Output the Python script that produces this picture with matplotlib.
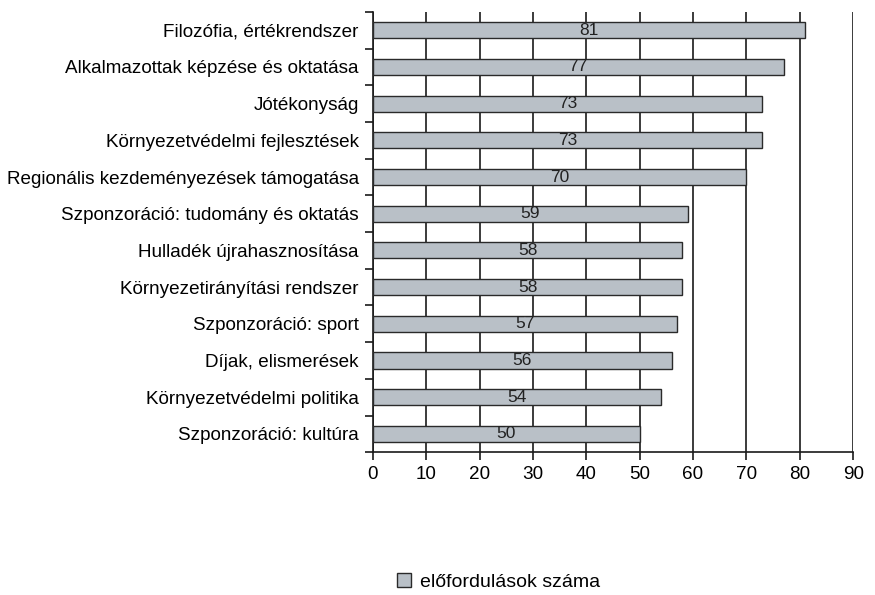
import numpy as np
import matplotlib
matplotlib.use('Agg')
from matplotlib import pyplot as plt
from matplotlib.ticker import MultipleLocator

plt.rcParams['font.family'] = ['Liberation Sans', 'DejaVu Sans']

categories = [
    'Filozófia, értékrendszer',
    'Alkalmazottak képzése és oktatása',
    'Jótékonyság',
    'Környezetvédelmi fejlesztések',
    'Regionális kezdeményezések támogatása',
    'Szponzoráció: tudomány és oktatás',
    'Hulladék újrahasznosítása',
    'Környezetirányítási rendszer',
    'Szponzoráció: sport',
    'Díjak, elismerések',
    'Környezetvédelmi politika',
    'Szponzoráció: kultúra',
]
values = [81, 77, 73, 73, 70, 59, 58, 58, 57, 56, 54, 50]
series_name = 'előfordulások száma'

fig = plt.figure(figsize=(8.75, 5.95), dpi=100)
ax = fig.add_axes([0.426, 0.240, 0.549, 0.740])

y = np.arange(len(categories))
bars = ax.barh(y, values, height=0.44, color='#b9c0c7', edgecolor='#2a2a2a',
               linewidth=1.0, label=series_name, zorder=3)

for yi, v in zip(y, values):
    ax.text(v / 2, yi, str(v), ha='center', va='center', fontsize=12.5,
            color='#222222', zorder=4)

ax.set_xlim(0, 90)
ax.set_ylim(len(categories) - 0.5, -0.5)
ax.xaxis.set_major_locator(MultipleLocator(10))
ax.grid(axis='x', color='#1a1a1a', linewidth=1.2, zorder=0)

ax.set_yticks(y)
ax.set_yticklabels(categories, fontsize=13.6)
ax.set_yticks(np.arange(len(categories) + 1) - 0.5, minor=True)
ax.tick_params(axis='y', which='major', length=0, pad=10)
ax.tick_params(axis='y', which='minor', length=6, width=1.2, color='#1a1a1a')
ax.tick_params(axis='x', length=6, width=1.2, color='#1a1a1a', labelsize=13.6, pad=4)

for side in ['top', 'right']:
    ax.spines[side].set_visible(False)
for side in ['left', 'bottom']:
    ax.spines[side].set_color('#1a1a1a')
    ax.spines[side].set_linewidth(1.2)

fig.legend(handles=[bars], labels=[series_name], loc='center',
           bbox_to_anchor=(0.57, 0.022), frameon=False, fontsize=14,
           handlelength=0.7, handleheight=0.7, handletextpad=0.5,
           borderpad=0.1)

plt.savefig('out.png', dpi=100)
